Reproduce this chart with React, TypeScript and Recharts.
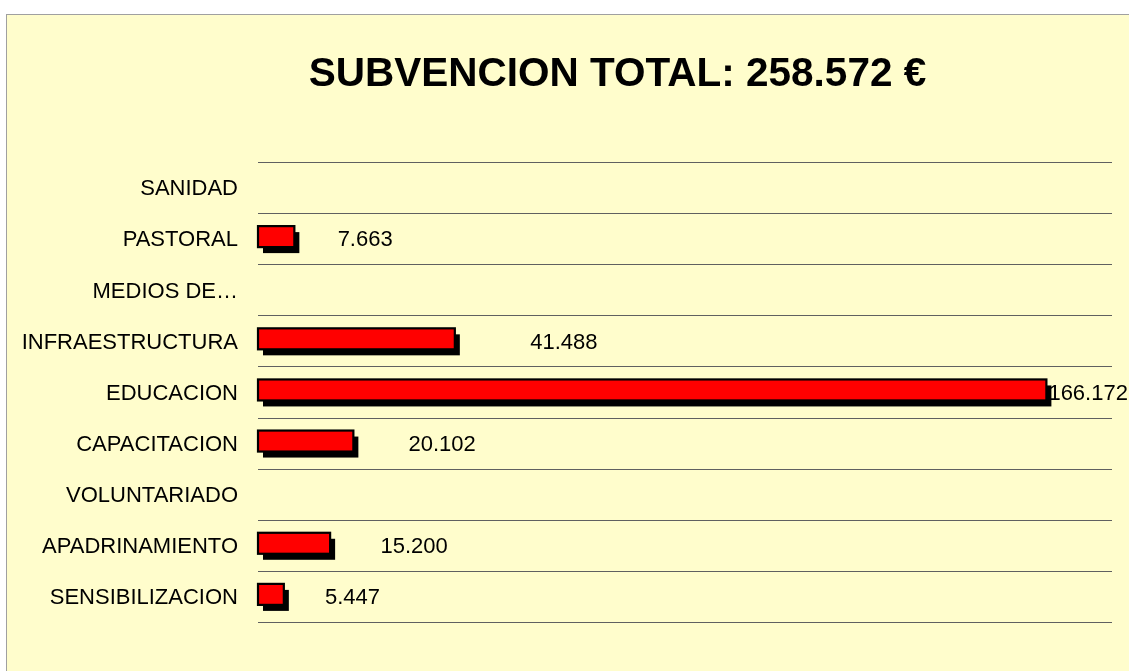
import { BarChart, Bar, XAxis, YAxis, CartesianGrid, LabelList } from 'recharts';

const categories = [
  'SANIDAD',
  'PASTORAL',
  'MEDIOS DE…',
  'INFRAESTRUCTURA',
  'EDUCACION',
  'CAPACITACION',
  'VOLUNTARIADO',
  'APADRINAMIENTO',
  'SENSIBILIZACION',
];
const amounts = [0, 7663, 0, 41488, 166172, 20102, 0, 15200, 5447];
const total = 258572;

const chartData = categories.map((name, i) => ({ name, value: amounts[i] }));

const FONT = '"Liberation Sans", Arial, Helvetica, sans-serif';
const W = 1129;
const H = 671;

function fmt(n: number) {
  return String(n).replace(/\B(?=(\d{3})+(?!\d))/g, '.');
}

function ShadowBar(props: any) {
  const { x, y, width, height } = props;
  if (!width || width <= 0) return null;
  return (
    <g>
      <rect x={x + 5} y={y + 4} width={width} height={height} fill="#000" />
      <rect x={x} y={y - 2} width={width} height={height} fill="#FF0000" stroke="#000" strokeWidth={2.2} />
    </g>
  );
}

function ValueLabel(props: any) {
  const { x, y, width, height, value } = props;
  if (!value) return null;
  const text = fmt(value);
  const textW = text.length * 12.2;
  // label sits a bit further out the longer the bar is
  let tx = x + width * 1.2 + 36;
  if (tx + textW > W) tx = x + width + 2;
  return (
    <text x={tx} y={y + height / 2} dy="0.35em" fontSize={22} fontFamily={FONT} fill="#000">
      {text}
    </text>
  );
}

export default function App() {
  return (
    <div style={{ position: 'fixed', left: 0, top: 0, width: W, height: H, overflow: 'hidden' }}>
      <div
        style={{
          position: 'absolute',
          left: 6,
          top: 14,
          width: 1200,
          height: 720,
          border: '1px solid #a0a0a0',
          background: '#FFFDCC',
        }}
      />
      <div
        style={{
          position: 'absolute',
          left: 0,
          top: 48,
          width: 1235,
          textAlign: 'center',
          fontFamily: FONT,
          fontWeight: 700,
          fontSize: 40.5,
          lineHeight: '48px',
          color: '#000',
        }}
      >
        SUBVENCION TOTAL: {fmt(total)} €
      </div>
      <div style={{ position: 'absolute', left: 0, top: 0 }}>
        <BarChart
          width={W}
          height={H}
          data={chartData}
          layout="vertical"
          margin={{ top: 162, right: 17, bottom: 49, left: 0 }}
          barSize={21}
        >
          <CartesianGrid
            vertical={false}
            stroke="#606060"
            strokeWidth={1}
            horizontalCoordinatesGenerator={(p: any) => {
              const { top, height } = p.offset;
              const step = height / categories.length;
              return Array.from({ length: categories.length + 1 }, (_, i) => Math.round(top + i * step) + 0.5);
            }}
          />
          <XAxis type="number" domain={[0, 180000]} hide />
          <YAxis
            type="category"
            dataKey="name"
            width={258}
            axisLine={false}
            tickLine={false}
            tickSize={0}
            tickMargin={20}
            interval={0}
            tick={{ fill: '#000', fontSize: 22, fontFamily: FONT }}
          />
          <Bar dataKey="value" shape={ShadowBar} isAnimationActive={false}>
            <LabelList dataKey="value" content={ValueLabel} />
          </Bar>
        </BarChart>
      </div>
    </div>
  );
}
